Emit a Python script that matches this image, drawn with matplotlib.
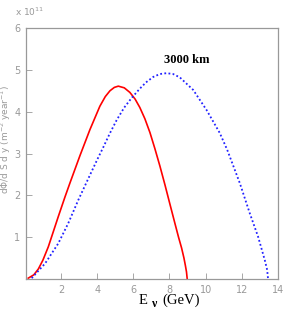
import numpy as np
import matplotlib
matplotlib.use("Agg")
import matplotlib.pyplot as plt

# spectrum, flux in units of 1e11
e_red = [0.19, 0.5, 0.75, 1.0, 1.30, 1.85, 2.22, 2.50, 3.05, 3.60, 4.15, 4.45, 4.71, 4.95, 5.17, 5.5, 5.81, 6.1,
         6.36, 6.64, 6.92, 7.19, 7.47, 7.75, 8.03, 8.30, 8.5, 8.67, 8.8, 8.88, 8.94, 8.98]
f_red = [0.02, 0.1, 0.24, 0.45, 0.77, 1.49, 1.96, 2.3, 2.95, 3.57, 4.13, 4.36, 4.5, 4.58, 4.61, 4.57, 4.46, 4.3,
         4.1, 3.83, 3.5, 3.12, 2.7, 2.25, 1.78, 1.33, 1.0, 0.74, 0.5, 0.32, 0.17, 0.0]

e_blue = [0.38, 1.12, 1.85, 2.40, 2.96, 3.51, 4.0, 4.34, 4.7, 5.08, 5.5, 5.91, 6.36, 6.7, 7.1, 7.47,
          7.84, 8.2, 8.57, 9.31, 10.05, 10.78, 11.19, 11.89, 12.44, 12.9, 13.27, 13.4, 13.45]
f_blue = [0.02, 0.37, 0.85, 1.33, 1.89, 2.4, 2.85, 3.15, 3.48, 3.8, 4.1, 4.33, 4.55, 4.7, 4.83, 4.9,
          4.92, 4.9, 4.82, 4.52, 4.04, 3.49, 3.09, 2.29, 1.57, 1.01, 0.45, 0.22, 0.0]

xticks = [2, 4, 6, 8, 10, 12, 14]
yticks = [1, 2, 3, 4, 5, 6]

grey = "#999999"
W, H = 299, 309
fig = plt.figure(figsize=(W / 100, H / 100), dpi=100)
ax = fig.add_axes([26 / W, 1 - 279 / H, 252 / W, 251 / H])

ax.plot(e_red, f_red, color="red", lw=1.2)
ax.plot(e_blue, f_blue, color="#2222ff", lw=1.3, linestyle=(0, (1, 1.3)))

ax.set_xlim(0.066, 14)
ax.set_ylim(0, 6)
ax.set_xticks(xticks)
ax.set_yticks(yticks)
ax.tick_params(direction="in", length=4, width=0.6, color=grey, labelcolor=grey,
               labelsize=7, pad=4)
for s in ax.spines.values():
    s.set_color(grey)
    s.set_linewidth(0.9)

ax.text(8.98, 5.24, "3000 km", ha="center", va="center", fontsize=9,
        fontweight="bold", family="Liberation Serif")

fig.text(15 / W, 1 - 12 / H, "x 10$^{11}$", color=grey, fontsize=6.5, va="center")
fig.text(6 / W, 1 - 140 / H, "d$\\Phi$/d S d y (m$^{-2}$ year$^{-1}$)", color=grey,
         fontsize=6.5, rotation=90, ha="center", va="center")

# x label: E, lowered nu, (GeV)
fig.text(143 / W, 1 - 300 / H, "E", fontsize=10.5, family="Liberation Serif", ha="center", va="center")
fig.text(154.5 / W, 1 - 304 / H, "ν", fontsize=8.5, family="Liberation Serif", fontweight="bold",
         ha="center", va="center")
fig.text(181 / W, 1 - 300 / H, "(GeV)", fontsize=10.5, family="Liberation Serif", ha="center", va="center")

fig.savefig("out.png", dpi=100)
